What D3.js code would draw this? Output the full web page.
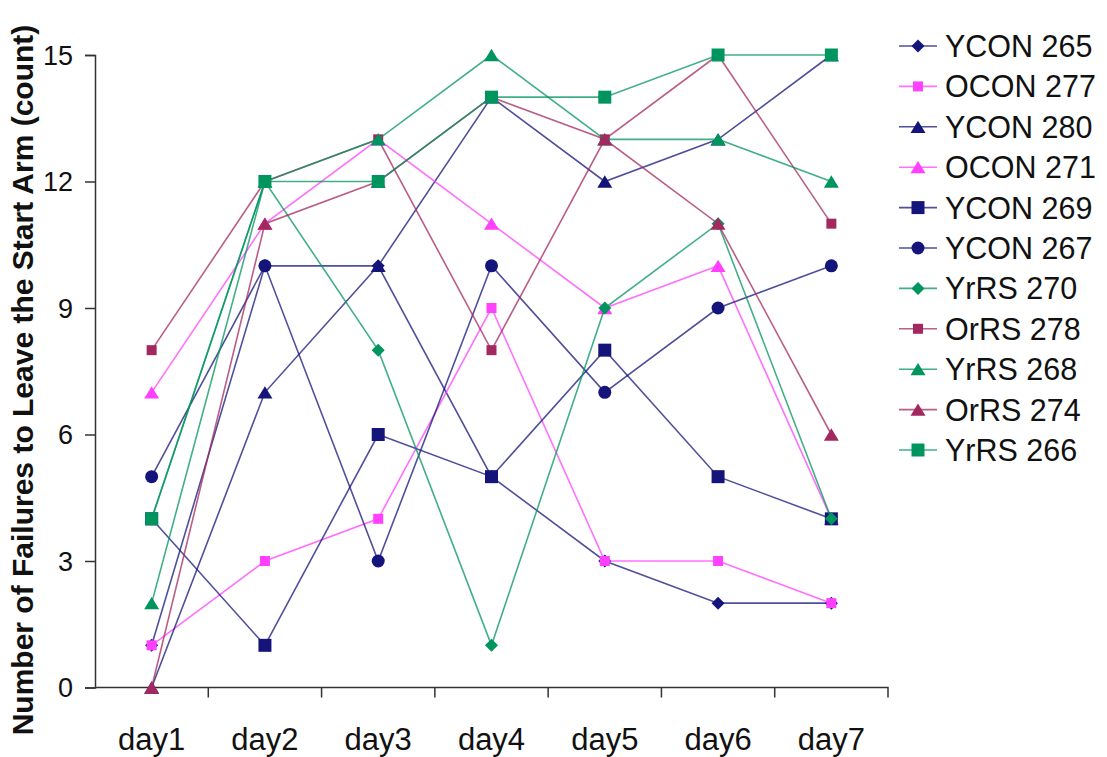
<!DOCTYPE html>
<html>
<head>
<meta charset="utf-8">
<script src="https://cdn.jsdelivr.net/npm/d3@7"></script>
<style>
  html, body { margin: 0; padding: 0; background: #fff; }
  svg { display: block; font-family: "Liberation Sans", Arial, sans-serif; }
</style>
</head>
<body>
<svg id="chart" width="1107" height="757"></svg>
<script>
// Days of the trial
const days = ["day1", "day2", "day3", "day4", "day5", "day6", "day7"];

// Failures to leave the start arm, per animal
const ycon265 = [1, 10, 10, 5, 3, 2, 2];
const ocon277 = [1, 3, 4, 9, 3, 3, 2];
const ycon280 = [0, 7, 10, 14, 12, 13, 15];
const ocon271 = [7, 11, 13, 11, 9, 10, 4];
const ycon269 = [4, 1, 6, 5, 8, 5, 4];
const ycon267 = [5, 10, 3, 10, 7, 9, 10];
const yrrs270 = [4, 12, 8, 1, 9, 11, 4];
const orrs278 = [8, 12, 13, 8, 13, 15, 11];
const yrrs268 = [2, 12, 13, 15, 13, 13, 12];
const orrs274 = [0, 11, 12, 14, 13, 11, 6];
const yrrs266 = [4, 12, 12, 14, 14, 15, 15];

const seriesNames = ["YCON 265", "OCON 277", "YCON 280", "OCON 271", "YCON 269", "YCON 267",
                     "YrRS 270", "OrRS 278", "YrRS 268", "OrRS 274", "YrRS 266"];
const seriesValues = [ycon265, ocon277, ycon280, ocon271, ycon269, ycon267,
                      yrrs270, orrs278, yrrs268, orrs274, yrrs266];

const yTicks = [0, 3, 6, 9, 12, 15];

// Styling per series: colour, marker shape and marker size (px)
const NAVY = "#14147a", PINK = "#ff40ff", GREEN = "#00945e", MAROON = "#a3285f";
const seriesColors = [NAVY, PINK, NAVY, PINK, NAVY, NAVY, GREEN, MAROON, GREEN, MAROON, GREEN];
const seriesShapes = ["diamond", "square", "triangle", "triangle", "square", "circle",
                      "diamond", "square", "triangle", "triangle", "square"];
const seriesSizes = [13, 10, 15, 15, 13, 13, 13, 10, 15, 15, 13];

function markerPath(shape, s) {
  const h = s / 2;
  const p = d3.path();
  if (shape === "square") {
    p.rect(-h, -h, s, s);
  } else if (shape === "diamond") {
    p.moveTo(0, -h); p.lineTo(h, 0); p.lineTo(0, h); p.lineTo(-h, 0); p.closePath();
  } else if (shape === "triangle") {
    const th = s * 0.82;
    p.moveTo(0, -th / 2); p.lineTo(h, th / 2); p.lineTo(-h, th / 2); p.closePath();
  } else {
    p.arc(0, 0, h, 0, 2 * Math.PI);
  }
  return p.toString();
}

const svg = d3.select("#chart");
const plot = { left: 95, right: 888, top: 55, bottom: 687.5 };

const x = d3.scaleBand().domain(days).range([plot.left, plot.right]);
const y = d3.scaleLinear().domain([0, 15]).range([plot.bottom, plot.top]);

// Axes
const yAxis = d3.axisLeft(y).tickValues(yTicks).tickSize(10).tickPadding(12);
const gy = svg.append("g").attr("transform", `translate(${plot.left},0)`).call(yAxis);
gy.select(".domain").attr("stroke", "#333").attr("stroke-width", 1.5);
gy.selectAll(".tick line").attr("stroke", "#333").attr("stroke-width", 1.5);
gy.selectAll(".tick text").attr("font-size", 27).attr("fill", "#111")
  .attr("font-family", "'Liberation Sans', Arial, sans-serif").attr("dy", "0.35em");

const xAxis = d3.axisBottom(x).tickSize(0).tickPadding(40);
const gx = svg.append("g").attr("transform", `translate(0,${plot.bottom})`).call(xAxis);
gx.select(".domain").attr("stroke", "#333").attr("stroke-width", 1.5).attr("d", `M${plot.left},0H${plot.right}V10`);
gx.selectAll(".tick text").attr("font-size", 31).attr("fill", "#111")
  .attr("font-family", "'Liberation Sans', Arial, sans-serif");
// tick marks at the category boundaries
gx.selectAll(".sep").data(days.slice(1)).join("line")
  .attr("class", "sep")
  .attr("x1", d => x(d)).attr("x2", d => x(d))
  .attr("y1", 0).attr("y2", 10)
  .attr("stroke", "#333").attr("stroke-width", 1.5);

// Y axis title
svg.append("text")
  .attr("transform", "translate(33,380) rotate(-90)")
  .attr("text-anchor", "middle")
  .attr("font-size", 30).attr("font-weight", "bold").attr("fill", "#111")
  .text("Number of Failures to Leave the Start Arm (count)");

// Series lines and markers
const cx = d => x(d) + x.bandwidth() / 2;
const line = d3.line().x((v, i) => cx(days[i])).y(v => y(v));

seriesValues.forEach((vals, k) => {
  const g = svg.append("g");
  g.append("path").datum(vals)
    .attr("d", line)
    .attr("fill", "none")
    .attr("stroke", seriesColors[k])
    .attr("stroke-opacity", 0.75)
    .attr("stroke-width", 1.6);
  g.selectAll("path.m").data(vals).join("path")
    .attr("class", "m")
    .attr("d", markerPath(seriesShapes[k], seriesSizes[k]))
    .attr("transform", (v, i) => `translate(${cx(days[i])},${y(v)})`)
    .attr("fill", seriesColors[k]);
});

// Legend
const legend = svg.append("g");
const legY = d3.scaleLinear().domain([0, 10]).range([46, 450]);
seriesNames.forEach((name, k) => {
  const g = legend.append("g").attr("transform", `translate(0,${legY(k)})`);
  g.append("line").attr("x1", 899).attr("x2", 937).attr("y1", 0).attr("y2", 0)
    .attr("stroke", seriesColors[k]).attr("stroke-opacity", 0.75).attr("stroke-width", 1.6);
  g.append("path").attr("d", markerPath(seriesShapes[k], seriesSizes[k]))
    .attr("transform", "translate(918,0)").attr("fill", seriesColors[k]);
  g.append("text").attr("x", 945).attr("y", 0).attr("dy", "0.36em")
    .attr("font-size", 30.5).attr("fill", "#111").text(name);
});
</script>
</body>
</html>
